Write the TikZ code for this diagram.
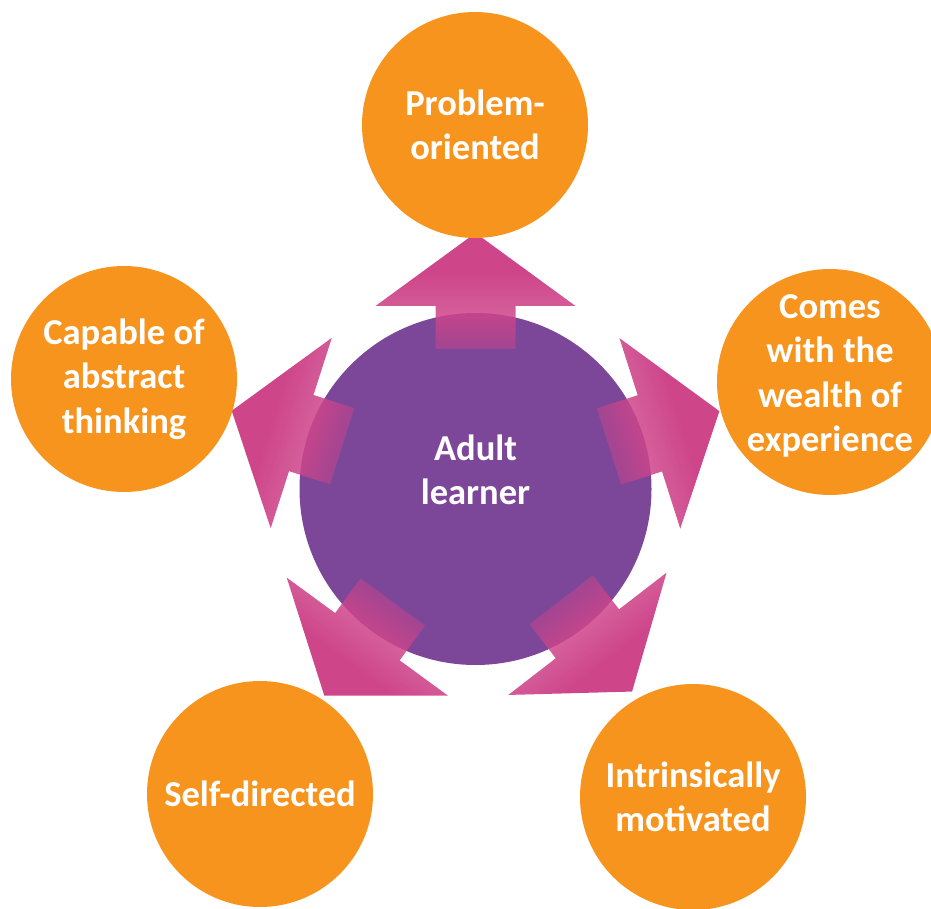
\documentclass[tikz,border=0pt]{standalone}
\usepackage{fontspec}
\setmainfont{Carlito}
\usetikzlibrary{fadings}
\definecolor{orangeC}{RGB}{247,148,30}
\definecolor{purpleC}{RGB}{125,71,153}
\definecolor{pinkC}{RGB}{206,69,138}
\pgfdeclarehorizontalshading{arrowfadesh}{100bp}{color(0bp)=(black); color(8bp)=(black); color(31bp)=(white!62!black); color(40bp)=(white!86!black); color(58bp)=(white); color(100bp)=(white)}
\tikzfading[name=arrowfade, shading=arrowfadesh]
\begin{document}
\begin{tikzpicture}[x=1pt,y=-1pt,
  labelfont/.style={text=white, font=\bfseries\fontsize{36.5}{44.5}\selectfont, align=center},
  bubble/.style={circle, fill=orangeC, minimum size=226pt, inner sep=0pt, labelfont},
  hub/.style={circle, fill=purpleC, minimum size=352pt, inner sep=0pt},
  pinkarrow/.style={fill=pinkC, path fading=arrowfade}]
\useasboundingbox (0,0) rectangle (931,909);
\node[hub] (hub) at (475.5,489) {};
\foreach \a in {90,17.7,162.2,-126.2,-52.3} {
  \begin{scope}[transform canvas={shift={(475.5,489)}, rotate=\a}]
    \fill[pinkarrow] (140,-40) -- (183,-40) -- (183,-100) -- (256,0) -- (183,100) -- (183,40) -- (140,40) -- cycle;
  \end{scope}
}
\node[labelfont] (hublabel) at (475.5,470) {Adult\\learner};
\node[bubble] (top) at (475,125) {Problem-\\oriented};
\node[bubble, label={[labelfont, yshift=6pt]center:{Comes\\with the\\wealth of\\experience}}] (right) at (830,382) {};
\node[bubble] (left) at (124,379) {Capable of\\abstract\\thinking};
\node[bubble] (bl) at (260,794) {Self-directed};
\node[bubble] (br) at (693,797) {Intrinsically\\motivated};
\end{tikzpicture}
\end{document}
